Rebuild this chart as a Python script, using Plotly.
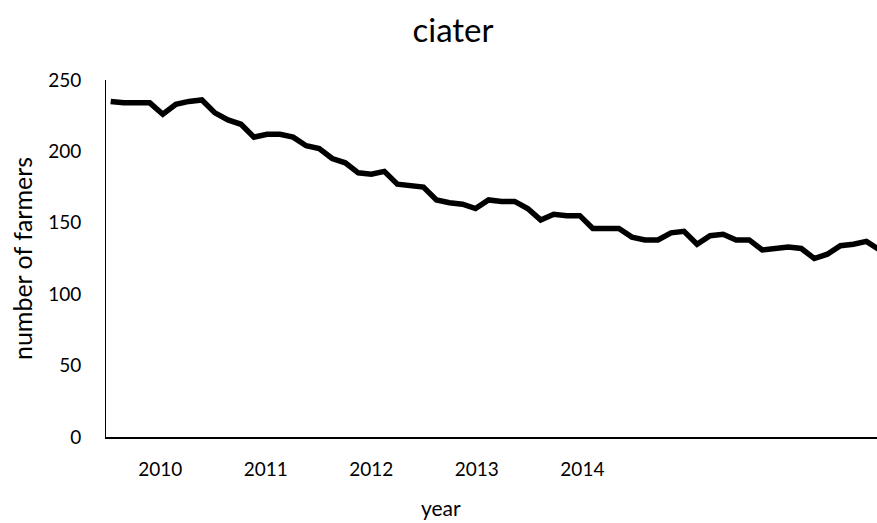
import plotly.graph_objects as go

# monthly observations (index) and number of farmers
month_index = list(range(60))
farmers = [235, 234, 234, 234, 226, 233, 235, 236, 227, 222,
           219, 210, 212, 212, 210, 204, 202, 195, 192, 185,
           184, 186, 177, 176, 175, 166, 164, 163, 160, 166,
           165, 165, 160, 152, 156, 155, 155, 146, 146, 146,
           140, 138, 138, 143, 144, 135, 141, 142, 138, 138,
           131, 132, 133, 132, 125, 128, 134, 135, 137, 131]

year_labels = ["2010", "2011", "2012", "2013", "2014"]
year_tick_pos = [3.8, 11.9, 20.0, 28.1, 36.2]

font_family = "Lato, 'Open Sans', sans-serif"

fig = go.Figure()
fig.add_trace(go.Scatter(x=month_index, y=farmers, mode="lines",
                         line=dict(color="black", width=5.5),
                         showlegend=False))

fig.update_layout(
    width=877, height=523,
    margin=dict(l=106, r=0, t=80, b=86, autoexpand=False),
    plot_bgcolor="white", paper_bgcolor="white",
    font=dict(family=font_family, color="black", size=19),
    title=dict(text="ciater", x=453 / 877, xanchor="center", y=1 - 30 / 523, yanchor="middle",
               font=dict(size=33, family=font_family, color="black")),
    annotations=[dict(text="year", xref="paper", yref="paper",
                      x=(441 - 106) / 771, y=-(507 - 437) / 357,
                      xanchor="center", yanchor="middle", showarrow=False,
                      font=dict(size=21, family=font_family, color="black"))],
)
fig.update_xaxes(range=[-0.36, 58.81], tickvals=year_tick_pos, ticktext=year_labels,
                 showgrid=False, zeroline=False, showline=True, linecolor="black",
                 linewidth=1.5, ticks="", ticklabelstandoff=14, automargin=False)
fig.update_yaxes(range=[0, 250], tickvals=[0, 50, 100, 150, 200, 250],
                 showgrid=False, zeroline=False, showline=True, linecolor="black",
                 linewidth=1, ticks="", ticklabelstandoff=20, automargin=False,
                 title=dict(text="number of farmers", font=dict(size=25), standoff=8))

fig.write_html("out.html", config={"displayModeBar": False},
               post_script="document.body.style.margin='0';document.body.style.overflow='hidden';")
